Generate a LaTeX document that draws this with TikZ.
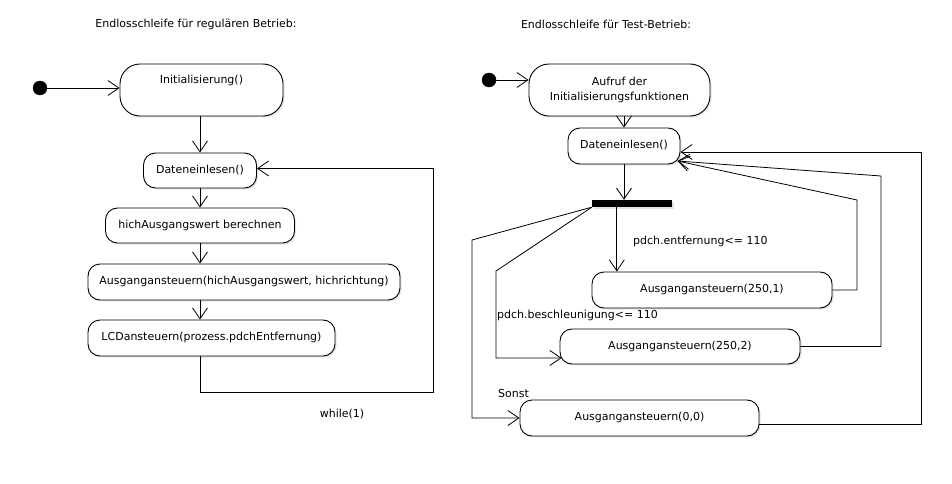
\documentclass[tikz,border=0pt]{standalone}
\usepackage{fontspec}
\setmainfont{DejaVu Sans}
\usetikzlibrary{arrows.meta,shadows,calc}
\begin{document}
\begin{tikzpicture}[x=1pt,y=-1pt,
  font=\fontsize{11}{15}\selectfont,
  shad/.style={drop shadow={shadow xshift=1.5pt,shadow yshift=-1.5pt,fill=black!22}},
  actbase/.style={draw,line width=0.9pt,fill=white,inner sep=0pt,shad},
  act/.style={actbase,rounded corners=12pt,text height=8pt,text depth=2.5pt},
  bigact/.style={actbase,rounded corners=20pt},
  arr/.style={line width=0.8pt,-{Straight Barb[length=11pt,width=15pt,line width=0.8pt]}},
  lbl/.style={inner sep=0pt,anchor=west,text height=8pt,text depth=2.5pt},
  startdot/.style={circle,fill=black,draw,minimum size=14pt,inner sep=0pt},
  syncbar/.style={rectangle,fill=black,inner sep=0pt,minimum width=80pt,minimum height=7pt,shad}]
\useasboundingbox (0,0) rectangle (952,484);

% ---------- left ----------
\node[inner sep=0pt] (t1) at (196,24) {Endlosschleife für regulären Betrieb:};
\node[startdot] (s1) at (40,88) {};
\node[bigact,minimum width=163pt,minimum height=52pt,text height=8pt,text depth=20pt] (ini) at (201.5,90) {Initialisierung()};
\node[act,minimum width=113pt,minimum height=35pt] (dl1) at (200,170.5) {Dateneinlesen()};
\node[act,minimum width=189pt,minimum height=35pt] (hab) at (200,225.5) {hichAusgangswert berechnen};
\node[act,minimum width=312pt,minimum height=36pt] (aus1) at (244,282) {Ausgangansteuern(hichAusgangswert, hichrichtung)};
\node[act,minimum width=247pt,minimum height=36pt] (lcd) at (211.5,338) {LCDansteuern(prozess.pdchEntfernung)};
\node[inner sep=0pt] (wh) at (342,414) {while(1)};

\draw[arr] (s1) -- (s1 -| ini.west);
\draw[arr] (dl1 |- ini.south) -- (dl1.north);
\draw[arr] (dl1.south) -- (hab.north);
\draw[arr] (hab.south) -- (hab.south |- aus1.north);
\draw[arr] (hab.south |- aus1.south) -- (hab.south |- lcd.north);
\draw[arr] (hab.south |- lcd.south) |- (433,392) |- ($(dl1.east)+(0,-2)$);

% ---------- right ----------
\node[inner sep=0pt] (t2) at (606,24) {Endlosschleife für Test-Betrieb:};
\node[startdot] (s2) at (489,80) {};
\node[bigact,minimum width=181pt,minimum height=52pt,align=center] (ar) at (619.5,90) {Aufruf der\\Initialisierungsfunktionen};
\node[act,minimum width=112pt,minimum height=36pt] (dl2) at (624,146) {Dateneinlesen()};
\node[syncbar] (bar) at (632,203.5) {};
\node[act,minimum width=240pt,minimum height=36pt] (a1) at (712,290) {Ausgangansteuern(250,1)};
\node[act,minimum width=240pt,minimum height=35pt] (a2) at (680,346.5) {Ausgangansteuern(250,2)};
\node[act,minimum width=239pt,minimum height=36pt] (a3) at (639.5,418) {Ausgangansteuern(0,0)};

\node[lbl] (l1) at (633,242) {pdch.entfernung<= 110};
\node[lbl] (l2) at (497,316) {pdch.beschleunigung<= 110};
\node[lbl] (l3) at (498,395) {Sonst};

\coordinate (b1) at ($(bar.south west)+(25,0)$);
\coordinate (d2in) at ($(dl2.east)+(-3,15)$);

\draw[arr] (s2) -- (s2 -| ar.west);
\draw[arr] (dl2 |- ar.south) -- (dl2.north);
\draw[arr] (dl2.south) -- (dl2.south |- bar.north);
\draw[arr] (b1) -- (b1 |- a1.north);
\draw[arr] (bar.south west) -- (496,271) -- (496,358) -- ($(a2.west)+(2,11.5)$);
\draw[arr] (bar.south west) -- (472,240) |- (a3.west);
\draw[arr] (a1.east) -- (857,290) -- (857,200) -- (d2in);
\draw[arr] (a2.east) -- (881,346.5) -- (881,176) -- (d2in);
\draw[arr] ($(a3.east)+(0,6)$) -- (921,424) -- (921,152) -- ($(dl2.east)+(0,6)$);
\end{tikzpicture}
\end{document}
